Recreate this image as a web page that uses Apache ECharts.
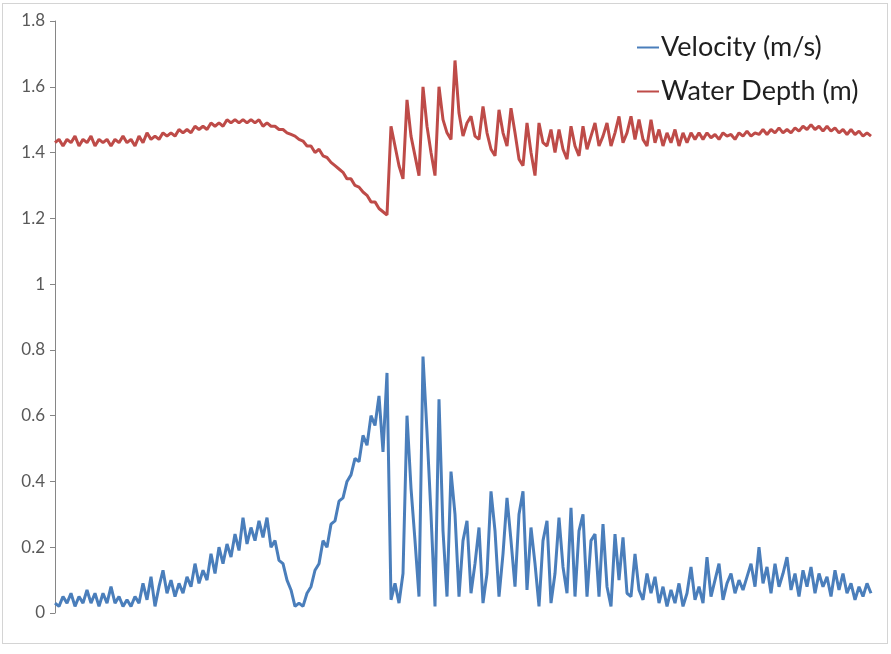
<!DOCTYPE html>
<html>
<head>
<meta charset="utf-8">
<script src="https://cdn.jsdelivr.net/npm/echarts@6/dist/echarts.min.js"></script>
<style>
html,body{margin:0;padding:0;background:#fff;}
#frame{position:absolute;left:2px;top:3px;width:886px;height:641px;border:1px solid #d4d4d4;box-sizing:border-box;}
#chart{position:absolute;left:0;top:0;width:891px;height:654px;}
</style>
</head>
<body>
<div id="frame"></div>
<div id="chart"></div>
<script>
var seriesNames = ["Velocity (m/s)", "Water Depth (m)"];
var yTicks = [0, 0.2, 0.4, 0.6, 0.8, 1, 1.2, 1.4, 1.6, 1.8];

var velocity = [
 0.03,0.02,0.05,0.03,0.06,0.02,0.05,0.03,0.07,0.03,
 0.06,0.02,0.06,0.03,0.08,0.03,0.05,0.02,0.04,0.02,
 0.05,0.03,0.09,0.04,0.11,0.02,0.08,0.13,0.06,0.10,
 0.05,0.09,0.06,0.11,0.08,0.15,0.09,0.13,0.10,0.18,
 0.12,0.20,0.15,0.21,0.17,0.24,0.19,0.29,0.21,0.26,
 0.22,0.28,0.23,0.29,0.20,0.22,0.16,0.15,0.10,0.07,
 0.02,0.03,0.02,0.06,0.08,0.13,0.15,0.22,0.20,0.27,
 0.28,0.34,0.35,0.40,0.42,0.47,0.46,0.54,0.51,0.60,
 0.57,0.66,0.49,0.73,0.04,0.09,0.03,0.12,0.60,0.38,
 0.22,0.05,0.78,0.55,0.30,0.02,0.65,0.25,0.05,0.43,
 0.30,0.05,0.22,0.28,0.06,0.15,0.26,0.03,0.12,0.37,
 0.25,0.05,0.18,0.35,0.22,0.08,0.30,0.37,0.07,0.26,
 0.15,0.02,0.22,0.28,0.03,0.12,0.29,0.14,0.06,0.32,
 0.05,0.25,0.30,0.05,0.22,0.24,0.05,0.27,0.08,0.02,
 0.24,0.10,0.23,0.06,0.05,0.18,0.07,0.04,0.12,0.06,
 0.11,0.03,0.08,0.02,0.07,0.03,0.09,0.02,0.06,0.14,
 0.04,0.08,0.03,0.17,0.05,0.10,0.15,0.04,0.09,0.12,
 0.06,0.10,0.07,0.11,0.15,0.08,0.20,0.09,0.14,0.06,
 0.15,0.08,0.12,0.17,0.07,0.12,0.05,0.13,0.08,0.14,
 0.06,0.12,0.08,0.11,0.05,0.13,0.07,0.12,0.06,0.09,
 0.04,0.08,0.05,0.09,0.06
];

var waterDepth = [
 1.43,1.44,1.42,1.44,1.43,1.45,1.42,1.44,1.43,1.45,
 1.42,1.44,1.43,1.44,1.42,1.44,1.43,1.45,1.43,1.44,
 1.42,1.45,1.43,1.46,1.44,1.45,1.44,1.46,1.45,1.46,
 1.45,1.47,1.46,1.47,1.46,1.48,1.47,1.48,1.47,1.49,
 1.48,1.49,1.48,1.50,1.49,1.50,1.49,1.50,1.49,1.50,
 1.49,1.50,1.48,1.49,1.48,1.48,1.47,1.47,1.46,1.455,
 1.45,1.44,1.435,1.42,1.42,1.40,1.41,1.39,1.385,1.37,
 1.36,1.35,1.34,1.32,1.32,1.30,1.295,1.28,1.27,1.25,
 1.25,1.23,1.22,1.21,1.48,1.42,1.36,1.32,1.56,1.45,
 1.39,1.33,1.60,1.48,1.40,1.33,1.60,1.50,1.46,1.44,
 1.68,1.52,1.45,1.49,1.51,1.45,1.44,1.54,1.46,1.41,
 1.39,1.53,1.46,1.42,1.535,1.46,1.38,1.36,1.49,1.40,
 1.33,1.49,1.43,1.42,1.47,1.40,1.47,1.41,1.38,1.48,
 1.42,1.39,1.48,1.41,1.45,1.49,1.42,1.45,1.49,1.42,
 1.46,1.51,1.43,1.46,1.51,1.44,1.50,1.44,1.42,1.50,
 1.43,1.47,1.42,1.46,1.43,1.47,1.42,1.46,1.43,1.46,
 1.44,1.46,1.44,1.46,1.445,1.455,1.44,1.46,1.45,1.455,
 1.44,1.46,1.45,1.465,1.45,1.46,1.455,1.47,1.455,1.47,
 1.46,1.475,1.46,1.47,1.46,1.475,1.465,1.48,1.47,1.485,
 1.47,1.48,1.465,1.48,1.465,1.475,1.46,1.47,1.455,1.47,
 1.455,1.465,1.45,1.46,1.45
];

function toPairs(arr){ return arr.map(function(v,i){ return [i, v]; }); }

var chart = echarts.init(document.getElementById('chart'), null, {renderer:'canvas'});
chart.setOption({
  animation: false,
  backgroundColor: 'transparent',
  grid: {left: 53, right: 20, top: 21, bottom: 41, containLabel: false},
  legend: {
    orient: 'vertical',
    left: 632, top: 29,
    itemWidth: 22, itemHeight: 2, itemGap: 17,
    icon: 'rect',
    textStyle: {fontFamily: 'Lato', fontSize: 27, color: '#1f1f1f', padding: [0,0,0,-3]},
    data: seriesNames
  },
  xAxis: {
    type: 'value', min: -0.5, max: velocity.length - 1,
    show: false
  },
  yAxis: {
    type: 'value', min: yTicks[0], max: yTicks[yTicks.length-1], interval: 0.2,
    axisLine: {show: true, lineStyle: {color: '#868686', width: 1}},
    axisTick: {show: true, length: 5, lineStyle: {color: '#868686'}},
    splitLine: {show: false},
    axisLabel: {fontFamily: 'Lato', fontSize: 17, color: '#595959', margin: 8}
  },
  series: [
    {name: seriesNames[0], type: 'line', data: toPairs(velocity), showSymbol: false,
     lineStyle: {color: '#4a7ebb', width: 3}, itemStyle: {color: '#4a7ebb'}},
    {name: seriesNames[1], type: 'line', data: toPairs(waterDepth), showSymbol: false,
     lineStyle: {color: '#be4b48', width: 3}, itemStyle: {color: '#be4b48'}}
  ]
});
</script>
</body>
</html>
